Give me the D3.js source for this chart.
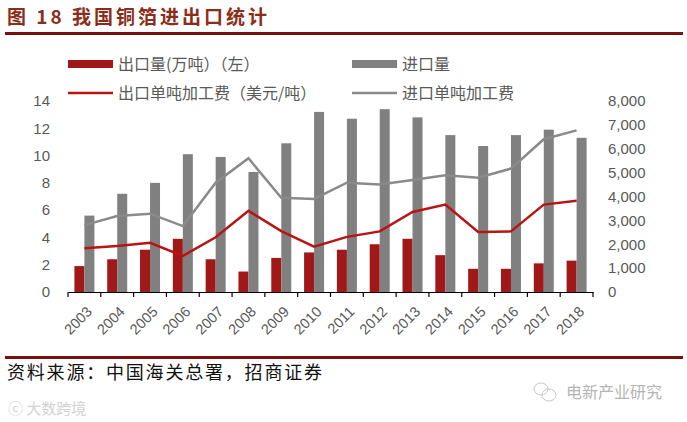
<!DOCTYPE html>
<html>
<head>
<meta charset="utf-8">
<script src="https://cdn.jsdelivr.net/npm/d3@7"></script>
<style>
  body { margin: 0; background: #fff; }
  .tick text { fill: #595959; }
</style>
</head>
<body>
<div id="chart"></div>
<script>
// Data
const years = ["2003","2004","2005","2006","2007","2008","2009","2010",
               "2011","2012","2013","2014","2015","2016","2017","2018"];
const exportVol = [1.9, 2.4, 3.1, 3.9, 2.4, 1.5, 2.5, 2.9, 3.1, 3.5, 3.9, 2.7, 1.7, 1.7, 2.1, 2.3];
const importVol = [5.6, 7.2, 8.0, 10.1, 9.9, 8.8, 10.9, 13.2, 12.7, 13.4, 12.8, 11.5, 10.7, 11.5, 11.9, 11.3];
const exportFee = [1830, 1930, 2060, 1510, 2290, 3400, 2550, 1900, 2310, 2540, 3350, 3660, 2510, 2540, 3660, 3820];
const importFee = [2800, 3180, 3280, 2760, 4580, 5600, 3950, 3900, 4580, 4500, 4690, 4890, 4790, 5170, 6400, 6770];
const leftTicks = [0, 2, 4, 6, 8, 10, 12, 14];
const rightTicks = [0, 1000, 2000, 3000, 4000, 5000, 6000, 7000, 8000];

const width = 687, height = 422;
const plot = { left: 68, right: 593, top: 101, bottom: 292 };
const red = "#a01818", gray = "#808080";
const lineRed = "#b81414", lineGray = "#8a8a8a";
const cjk = "'Noto Sans CJK SC', 'Liberation Sans', sans-serif";
const num = "'Liberation Sans', Arial, sans-serif";

const svg = d3.select("#chart")
    .append("svg")
    .attr("width", width)
    .attr("height", height);

// Title and rules
svg.append("text")
    .attr("x", 7)
    .attr("y", 24)
    .attr("fill", "#8c2d19")
    .style("font-family", cjk)
    .style("font-weight", "bold")
    .style("font-size", "19px")
    .style("letter-spacing", "3px")
    .text("图 18 我国铜箔进出口统计");

svg.append("rect")
    .attr("x", 5).attr("y", 32)
    .attr("width", 678).attr("height", 3)
    .attr("fill", "#7a1010");

svg.append("rect")
    .attr("x", 5).attr("y", 356)
    .attr("width", 678).attr("height", 3)
    .attr("fill", "#7a1010");

// Scales
const xScale = d3.scaleBand()
    .domain(years)
    .range([plot.left, plot.right])
    .padding(0);

const subScale = d3.scaleBand()
    .domain(["exp", "imp"])
    .range([0, xScale.bandwidth()])
    .paddingInner(0)
    .paddingOuter(0.64);

const yLeft = d3.scaleLinear().domain([0, 14]).range([plot.bottom, plot.top]);
const yRight = d3.scaleLinear().domain([0, 8000]).range([plot.bottom, plot.top]);

// Bars
const barGroups = svg.append("g")
    .selectAll("g")
    .data(years)
    .join("g")
    .attr("transform", d => `translate(${xScale(d)},0)`);

barGroups.append("rect")
    .attr("x", subScale("exp"))
    .attr("width", subScale.bandwidth())
    .attr("y", (d, i) => yLeft(exportVol[i]))
    .attr("height", (d, i) => yLeft(0) - yLeft(exportVol[i]))
    .attr("fill", red);

barGroups.append("rect")
    .attr("x", subScale("imp"))
    .attr("width", subScale.bandwidth())
    .attr("y", (d, i) => yLeft(importVol[i]))
    .attr("height", (d, i) => yLeft(0) - yLeft(importVol[i]))
    .attr("fill", gray);

// Lines on right axis
const line = d3.line()
    .x((d, i) => xScale(years[i]) + xScale.bandwidth() / 2)
    .y(d => yRight(d));

svg.append("path")
    .datum(importFee)
    .attr("d", line)
    .attr("fill", "none")
    .attr("stroke", lineGray)
    .attr("stroke-width", 2.5);

svg.append("path")
    .datum(exportFee)
    .attr("d", line)
    .attr("fill", "none")
    .attr("stroke", lineRed)
    .attr("stroke-width", 2.5);

// X axis: line with ticks at category boundaries
const xAxis = svg.append("g")
    .attr("transform", `translate(0,${plot.bottom})`)
    .call(d3.axisBottom(xScale).tickSize(0).tickPadding(0));
xAxis.select(".domain").attr("stroke", "#000").attr("stroke-width", 1.2);
xAxis.selectAll(".tick text")
    .style("font-family", num)
    .style("font-size", "14.5px")
    .attr("fill", "#595959")
    .attr("y", 0)
    .attr("dy", "0.35em")
    .attr("text-anchor", "end")
    .attr("transform", "translate(5,17) rotate(-45)");

const bounds = years.map(d => xScale(d)).concat([plot.right]);
xAxis.selectAll(".bound")
    .data(bounds)
    .join("line")
    .attr("class", "bound")
    .attr("x1", d => d).attr("x2", d => d)
    .attr("y1", 0).attr("y2", 5)
    .attr("stroke", "#000")
    .attr("stroke-width", 1.2);

// Left axis
const leftAxis = svg.append("g")
    .attr("transform", `translate(${plot.left},0)`)
    .call(d3.axisLeft(yLeft).tickValues(leftTicks).tickSize(0).tickPadding(18));
leftAxis.select(".domain").remove();
leftAxis.selectAll(".tick text")
    .style("font-family", num)
    .style("font-size", "15px");

// Right axis
const rightAxis = svg.append("g")
    .attr("transform", `translate(${plot.right},0)`)
    .call(d3.axisRight(yRight).tickValues(rightTicks).tickSize(0).tickPadding(15)
        .tickFormat(d3.format(",")));
rightAxis.select(".domain").remove();
rightAxis.selectAll(".tick text")
    .style("font-family", num)
    .style("font-size", "15px");

// Legend
const legendItems = [
    { label: "出口量(万吨）（左）", type: "rect", color: red, x: 68, y: 64 },
    { label: "进口量", type: "rect", color: gray, x: 352, y: 64 },
    { label: "出口单吨加工费（美元/吨）", type: "line", color: lineRed, x: 68, y: 93 },
    { label: "进口单吨加工费", type: "line", color: lineGray, x: 352, y: 93 }
];

const legend = svg.append("g").attr("class", "legend");
legendItems.forEach(item => {
    const g = legend.append("g").attr("transform", `translate(${item.x},${item.y})`);
    if (item.type === "rect") {
        g.append("rect")
            .attr("x", 0).attr("y", -4)
            .attr("width", 45).attr("height", 8)
            .attr("fill", item.color);
    } else {
        g.append("line")
            .attr("x1", 0).attr("x2", 45)
            .attr("y1", 0).attr("y2", 0)
            .attr("stroke", item.color)
            .attr("stroke-width", 2.5);
    }
    g.append("text")
        .attr("x", 50)
        .attr("y", 0)
        .attr("dy", "0.36em")
        .attr("fill", "#595959")
        .style("font-family", cjk)
        .style("font-size", "16px")
        .text(item.label);
});

// Source note
svg.append("text")
    .attr("x", 7)
    .attr("y", 379)
    .attr("fill", "#111")
    .style("font-family", cjk)
    .style("font-size", "18px")
    .style("letter-spacing", "1.8px")
    .text("资料来源：中国海关总署，招商证券");

// Watermarks
const wm = svg.append("g").attr("fill", "none").attr("stroke", "#c8c8c8").attr("stroke-width", 1);
wm.append("ellipse").attr("cx", 541).attr("cy", 389).attr("rx", 7).attr("ry", 6);
wm.append("ellipse").attr("cx", 549).attr("cy", 395).attr("rx", 7).attr("ry", 6);
svg.append("text")
    .attr("x", 566)
    .attr("y", 398)
    .attr("fill", "#b4b4b4")
    .style("font-family", cjk)
    .style("font-size", "16px")
    .text("电新产业研究");

svg.append("text")
    .attr("x", 8)
    .attr("y", 414)
    .attr("fill", "#d2d2d2")
    .style("font-family", cjk)
    .style("font-size", "15px")
    .text("ⓒ 大数跨境");
</script>
</body>
</html>
